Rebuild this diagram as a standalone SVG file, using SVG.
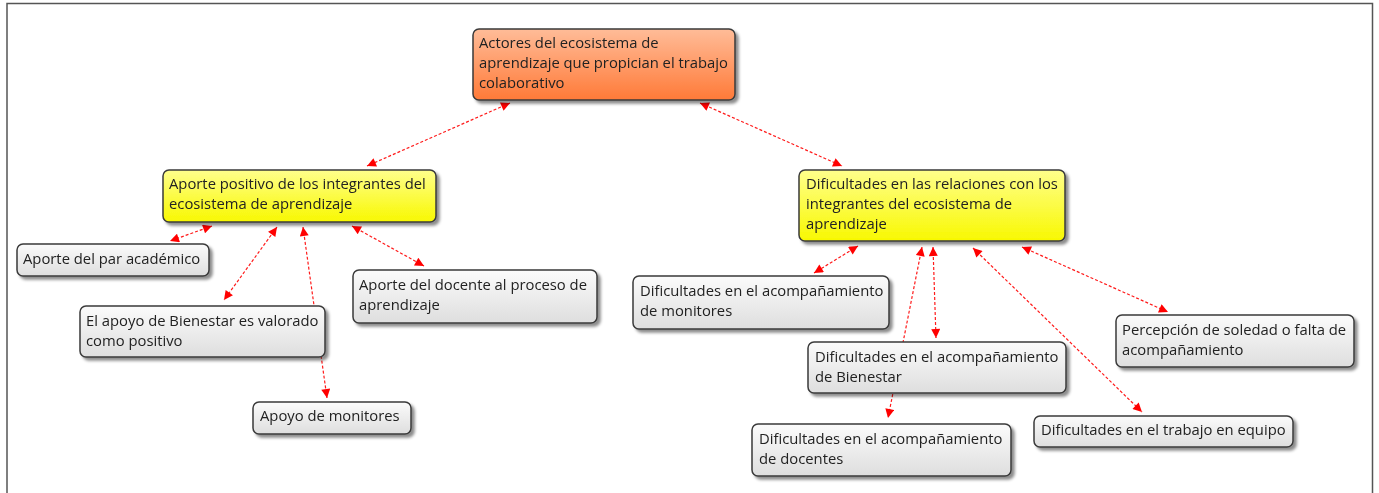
<svg xmlns="http://www.w3.org/2000/svg" width="1379" height="493" viewBox="0 0 1379 493">
<style>
.box{stroke:#3a3a3a;stroke-width:1.5}
.g{fill:url(#gGray)}
.y{fill:url(#gYellow)}
.o{fill:url(#gOrange)}
text{font-family:"Open Sans","Noto Sans","DejaVu Sans",sans-serif;font-size:14.8px;fill:#222}
.c{fill:none;stroke:#ff1a1a;stroke-width:1.2;stroke-dasharray:3 2;marker-start:url(#ah);marker-end:url(#ah)}
</style>
<defs>
<linearGradient id="gGray" x1="0" y1="0" x2="0" y2="1"><stop offset="0" stop-color="#fbfbfb"/><stop offset="1" stop-color="#dedede"/></linearGradient>
<linearGradient id="gYellow" x1="0" y1="0" x2="0" y2="1"><stop offset="0" stop-color="#ffff8c"/><stop offset="1" stop-color="#f8f800"/></linearGradient>
<linearGradient id="gOrange" x1="0" y1="0" x2="0" y2="1"><stop offset="0" stop-color="#ffbc98"/><stop offset="1" stop-color="#ff7a38"/></linearGradient>
<filter id="sh" x="-10%" y="-20%" width="125%" height="150%"><feDropShadow dx="3" dy="3" stdDeviation="1.5" flood-color="#000" flood-opacity="0.45"/></filter>
<marker id="ah" viewBox="0 0 10 10" refX="10" refY="5" markerWidth="11" markerHeight="9" markerUnits="userSpaceOnUse" orient="auto-start-reverse"><path d="M0,0 L10,5 L0,10 Z" fill="#ff0000"/></marker>
</defs>
<rect width="1379" height="493" fill="#ffffff"/>
<path d="M7,493 V3.5 H1372.5 V493" fill="none" stroke="#555" stroke-width="1.5"/>
<g id="connectors">
<line class="c" x1="510" y1="103" x2="367" y2="166"/>
<line class="c" x1="700" y1="103" x2="842" y2="166"/>
<line class="c" x1="212" y1="226" x2="170" y2="241"/>
<line class="c" x1="277" y1="227" x2="224" y2="300"/>
<line class="c" x1="303" y1="227" x2="327" y2="398"/>
<line class="c" x1="352" y1="226" x2="424" y2="266"/>
<line class="c" x1="858" y1="246" x2="814" y2="273"/>
<line class="c" x1="922" y1="247" x2="888" y2="418"/>
<line class="c" x1="933" y1="247" x2="936" y2="338"/>
<line class="c" x1="973" y1="248" x2="1142" y2="412"/>
<line class="c" x1="1022" y1="247" x2="1168" y2="312"/>
</g>
<g id="root" filter="url(#sh)"><rect class="box o" x="473" y="29" width="262" height="71" rx="6"/>
<text x="479" y="48">Actores del ecosistema de</text><text x="479" y="68">aprendizaje que propician el trabajo</text><text x="479" y="88">colaborativo</text></g>
<g id="aporte-positivo" filter="url(#sh)"><rect class="box y" x="163" y="170" width="273" height="52" rx="6"/>
<text x="169" y="189">Aporte positivo de los integrantes del</text><text x="169" y="209">ecosistema de aprendizaje</text></g>
<g id="dificultades" filter="url(#sh)"><rect class="box y" x="799" y="170" width="266" height="71" rx="6"/>
<text x="806" y="189">Dificultades en las relaciones con los</text><text x="806" y="209">integrantes del ecosistema de</text><text x="806" y="229">aprendizaje</text></g>
<g id="par" filter="url(#sh)"><rect class="box g" x="17" y="244" width="192" height="32" rx="6"/>
<text x="23" y="264">Aporte del par académico</text></g>
<g id="bienestar-pos" filter="url(#sh)"><rect class="box g" x="80" y="306" width="245" height="51" rx="6"/>
<text x="86" y="326">El apoyo de Bienestar es valorado</text><text x="86" y="346">como positivo</text></g>
<g id="docente" filter="url(#sh)"><rect class="box g" x="353" y="270" width="244" height="53" rx="6"/>
<text x="359" y="290">Aporte del docente al proceso de</text><text x="359" y="310">aprendizaje</text></g>
<g id="monitores" filter="url(#sh)"><rect class="box g" x="253" y="402" width="158" height="32" rx="6"/>
<text x="260" y="421">Apoyo de monitores</text></g>
<g id="dif-monitores" filter="url(#sh)"><rect class="box g" x="633" y="276" width="256" height="53" rx="6"/>
<text x="640" y="296">Dificultades en el acompañamiento</text><text x="640" y="316">de monitores</text></g>
<g id="dif-bienestar" filter="url(#sh)"><rect class="box g" x="808" y="342" width="258" height="51" rx="6"/>
<text x="815" y="362">Dificultades en el acompañamiento</text><text x="815" y="382">de Bienestar</text></g>
<g id="dif-docentes" filter="url(#sh)"><rect class="box g" x="752" y="424" width="259" height="52" rx="6"/>
<text x="759" y="444">Dificultades en el acompañamiento</text><text x="759" y="464">de docentes</text></g>
<g id="dif-equipo" filter="url(#sh)"><rect class="box g" x="1034" y="416" width="259" height="31" rx="6"/>
<text x="1041" y="435">Dificultades en el trabajo en equipo</text></g>
<g id="soledad" filter="url(#sh)"><rect class="box g" x="1116" y="315" width="238" height="52" rx="6"/>
<text x="1122" y="335">Percepción de soledad o falta de</text><text x="1122" y="355">acompañamiento</text></g>
</svg>
